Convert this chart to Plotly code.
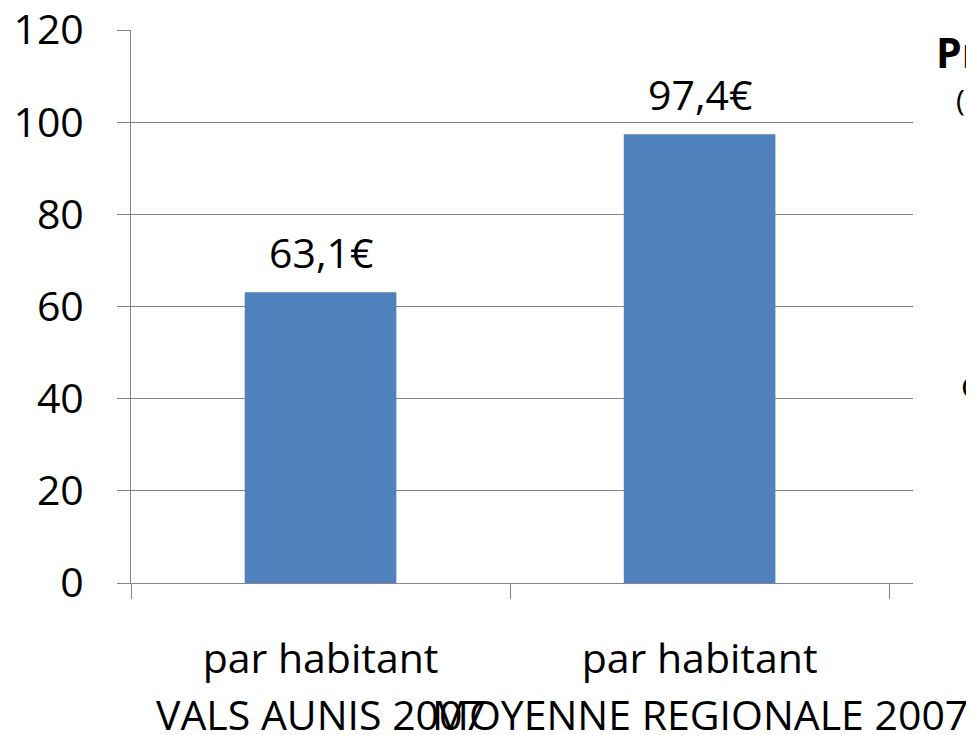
import plotly.graph_objects as go

categories = ["VALS AUNIS 2007", "MOYENNE REGIONALE 2007"]
tick_labels = ["par habitant", "par habitant"]
values = [63.1, 97.4]
y_ticks = [0, 20, 40, 60, 80, 100, 120]

FONT = "Open Sans"
GRAY = "#868686"

fig = go.Figure()
fig.add_trace(go.Bar(
    x=categories, y=values, width=0.4,
    marker=dict(color="#4F81BD", line=dict(width=0)),
    showlegend=False, hoverinfo="x+y",
))

# value labels above bars
for c, v in zip(categories, values):
    fig.add_annotation(x=c, y=v, xref="x", yref="y",
                       text=f"{v:.1f}".replace(".", ",") + "€",
                       showarrow=False, xanchor="center", yanchor="bottom", yshift=10,
                       font=dict(family=FONT, size=41, color="black"))

# second line of category labels
for c in categories:
    fig.add_annotation(x=c, xref="x", y=-0.237, yref="paper", text=c,
                       showarrow=False, xanchor="center", yanchor="middle",
                       font=dict(family=FONT, size=41, color="black"))

# side text box (cut by the right edge)
fig.add_annotation(x=1.0269, y=0.96, xref="paper", yref="paper", text="<b>Produit</b>",
                   showarrow=False, xanchor="left", yanchor="middle",
                   font=dict(family=FONT, size=41, color="black"))
fig.add_annotation(x=1.053, y=0.875, xref="paper", yref="paper", text="(source",
                   showarrow=False, xanchor="left", yanchor="middle",
                   font=dict(family=FONT, size=30, color="black"))
fig.add_annotation(x=1.0588, y=0.36, xref="paper", yref="paper", text="comparaison",
                   showarrow=False, xanchor="left", yanchor="middle",
                   font=dict(family=FONT, size=34, color="black"))

fig.update_layout(
    width=974, height=735,
    margin=dict(l=123, r=69, t=22, b=160, autoexpand=False),
    paper_bgcolor="white", plot_bgcolor="white",
    font=dict(family=FONT, size=41, color="black"),
    bargap=0.6,
)
fig.update_xaxes(
    type="category", range=[-0.5, 1.563], automargin=False,
    tickmode="array", tickvals=categories, ticktext=tick_labels,
    tickson="boundaries", ticks="outside", ticklen=15, tickcolor=GRAY, tickwidth=1,
    showline=True, linecolor=GRAY, linewidth=1, showgrid=False,
    ticklabelstandoff=40, ticklabeloverflow="allow",
    tickfont=dict(family=FONT, size=41, color="black"),
)
fig.update_yaxes(
    range=[0, 120], tickvals=y_ticks, automargin=False,
    ticks="outside", ticklen=13, tickcolor=GRAY, tickwidth=1,
    showline=True, linecolor=GRAY, linewidth=1,
    showgrid=True, gridcolor=GRAY, gridwidth=1, zeroline=False,
    ticklabelstandoff=25, ticklabeloverflow="allow",
    tickfont=dict(family=FONT, size=41, color="black"),
)

fig.write_html("out.html")
